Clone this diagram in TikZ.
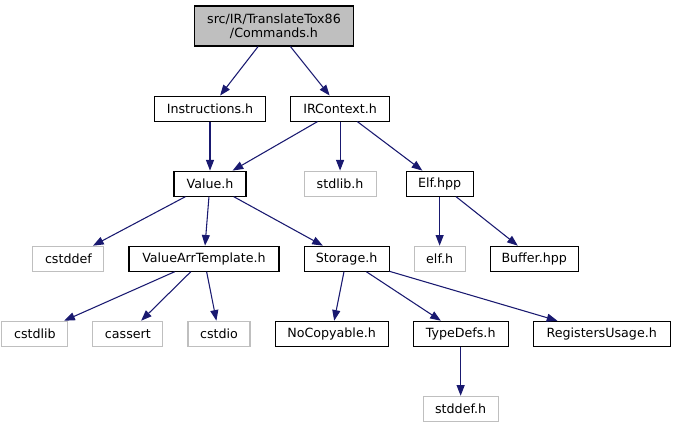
\documentclass[tikz,border=0pt]{standalone}
\usepackage{fontspec}
\setmainfont{DejaVu Sans}
\usetikzlibrary{arrows.meta,positioning}
\definecolor{edgeblue}{HTML}{191970}
\definecolor{extgray}{HTML}{BFBFBF}

\begin{document}
\begin{tikzpicture}[
  node distance=36.75pt and 18pt,
  box/.style={draw, line width=0.8pt, minimum height=18.75pt, inner sep=2pt, align=center, font=\fontsize{9.5}{10.5}\selectfont},
  inc/.style={box, draw=black},
  ext/.style={box, draw=extgray},
  arrow/.style={-{Triangle[length=8pt, width=6pt]}, line width=0.8pt, draw=edgeblue}
]
  \useasboundingbox (0,0) rectangle (504.75pt,-318.75pt);

  % root file
  \node[inc, fill=extgray, minimum width=119.25pt, minimum height=30pt] (cmd) at (205.5pt,-19.5pt) {src/IR/TranslateTox86\\/Commands.h};

  % first level
  \node[inc, minimum width=83.25pt, below=of cmd, xshift=-48pt] (instr) {Instructions.h};
  \node[inc, minimum width=74.25pt, right=of instr] (irctx) {IRContext.h};

  \node[inc, minimum width=54pt, below=of instr] (value) {Value.h};
  \node[ext, minimum width=54pt, below=of irctx] (stdlib) {stdlib.h};
  \node[inc, minimum width=50.25pt, right=21.75pt of stdlib] (elfhpp) {Elf.hpp};

  \node[inc, minimum width=112.5pt, below=of value, xshift=-4.5pt] (vat) {ValueArrTemplate.h};
  \node[ext, minimum width=53.25pt, left=of vat] (cstddef) {cstddef};
  \node[inc, minimum width=63.75pt, right=of vat] (storage) {Storage.h};
  \node[ext, minimum width=38.25pt, right=of storage] (elfh) {elf.h};
  \node[inc, minimum width=66pt, right=of elfh] (buffer) {Buffer.hpp};

  \node[ext, minimum width=46.5pt, below=of vat, xshift=11.25pt] (cstdio) {cstdio};
  \node[ext, minimum width=52.5pt, left=of cstdio] (cassert) {cassert};
  \node[ext, minimum width=49.5pt, left=of cassert] (cstdlib) {cstdlib};
  \node[inc, minimum width=84.75pt, right=of cstdio] (nocopy) {NoCopyable.h};
  \node[inc, minimum width=71.25pt, right=of nocopy] (typedefs) {TypeDefs.h};
  \node[inc, minimum width=102.75pt, right=of typedefs] (regs) {RegistersUsage.h};

  \node[ext, minimum width=56.25pt, below=of typedefs] (stddef) {stddef.h};

  % includes
  \draw[arrow] (cmd) -- (instr);
  \draw[arrow] (cmd) -- (irctx);
  \draw[arrow] (instr) -- (value);
  \draw[arrow] (irctx) -- (value);
  \draw[arrow] (irctx) -- (stdlib);
  \draw[arrow] (irctx) -- (elfhpp);
  \draw[arrow] (value) -- (cstddef);
  \draw[arrow] (value) -- (vat);
  \draw[arrow] (value) -- (storage);
  \draw[arrow] (elfhpp) -- (elfh);
  \draw[arrow] (elfhpp) -- (buffer);
  \draw[arrow] (vat) -- (cstdlib);
  \draw[arrow] (vat) -- (cassert);
  \draw[arrow] (vat) -- (cstdio);
  \draw[arrow] (storage) -- (nocopy);
  \draw[arrow] (storage) -- (typedefs);
  \draw[arrow] (storage) -- (regs);
  \draw[arrow] (typedefs) -- (stddef);
\end{tikzpicture}
\end{document}
